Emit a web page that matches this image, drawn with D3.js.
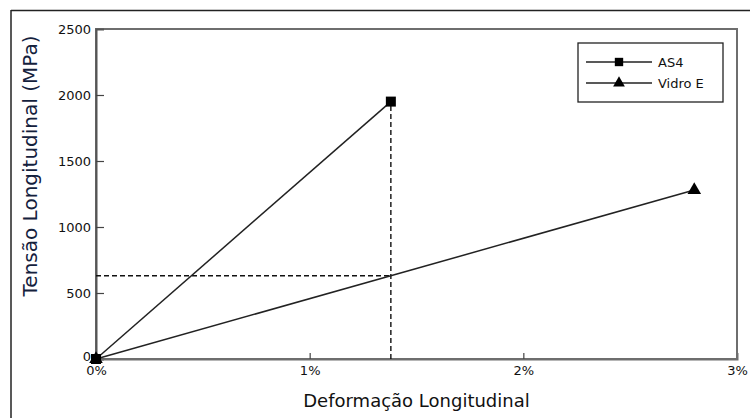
<!DOCTYPE html>
<html>
<head>
<meta charset="utf-8">
<script src="https://cdn.jsdelivr.net/npm/d3@7"></script>
<style>
  html, body { margin: 0; padding: 0; background: #fff; }
  svg { display: block; }
</style>
</head>
<body>
<svg id="chart" width="750" height="418"></svg>
<script>
// Stress–strain curves (strain in %, stress in MPa)
const seriesNames = ["AS4", "Vidro E"];
const strainAS4 = [0, 1.38];
const stressAS4 = [0, 1950];
const strainVidro = [0, 2.8];
const stressVidro = [0, 1280];
const xTicks = [0, 1, 2, 3];
const xTickLabels = ["0%", "1%", "2%", "3%"];
const yTicks = [0, 500, 1000, 1500, 2000, 2500];
const yTickLabels = ["0", "500", "1000", "1500", "2000", "2500"];

const svg = d3.select("#chart");
const W = 750, H = 418;
const m = { left: 96, right: 13, top: 29, bottom: 59 };

const x = d3.scaleLinear().domain([0, 3]).range([m.left, W - m.right]);
const y = d3.scaleLinear().domain([0, 2500]).range([H - m.bottom, m.top]);

// outer frame (top and left edges of the figure)
svg.append("line").attr("x1", 11).attr("x2", W).attr("y1", 10.5).attr("y2", 10.5)
  .attr("stroke", "#222").attr("stroke-width", 1.5);
svg.append("line").attr("x1", 11).attr("x2", 11).attr("y1", 10).attr("y2", H)
  .attr("stroke", "#222").attr("stroke-width", 1.5);

const font = "Tahoma, 'DejaVu Sans', sans-serif";

// plot box
svg.append("rect")
  .attr("x", x(0)).attr("y", y(2500))
  .attr("width", x(3) - x(0)).attr("height", y(0) - y(2500))
  .attr("fill", "none").attr("stroke", "#6e6e6e").attr("stroke-width", 2);

// y ticks (inward)
const yAxis = d3.axisLeft(y).tickValues(yTicks).tickSize(-8)
  .tickFormat((d, i) => yTickLabels[i]).tickPadding(14);
const gy = svg.append("g").attr("transform", `translate(${x(0)},0)`).call(yAxis);
gy.select(".domain").attr("stroke", "#555").attr("stroke-width", 2);
gy.selectAll(".tick line").attr("stroke", "#444").attr("stroke-width", 1.2)
  .filter(d => d === 0 || d === 2500).remove();
gy.selectAll(".tick text").attr("font-family", font).attr("font-size", 13)
  .attr("fill", "#111").attr("x", -5)
  .filter(d => d === 0).attr("dy", "0.1em");

// x ticks (inward)
const xAxis = d3.axisBottom(x).tickValues(xTicks).tickSize(-6)
  .tickFormat((d, i) => xTickLabels[i]).tickPadding(8);
const gx = svg.append("g").attr("transform", `translate(0,${y(0)})`).call(xAxis);
gx.select(".domain").attr("stroke", "#6e6e6e").attr("stroke-width", 2);
gx.selectAll(".tick line").attr("stroke", "#444").attr("stroke-width", 1.2)
  .filter(d => d === 0 || d === 3).remove();
gx.selectAll(".tick text").attr("font-family", font).attr("font-size", 13)
  .attr("fill", "#111").attr("y", 7);

// stress of the glass fibre at the carbon fibre failure strain
const xFail = strainAS4[1];
const yAtFail = stressVidro[1] * xFail / strainVidro[1];

// dashed reference lines
svg.append("line")
  .attr("x1", x(xFail)).attr("x2", x(xFail))
  .attr("y1", y(0)).attr("y2", y(stressAS4[1]))
  .attr("stroke", "#111").attr("stroke-width", 1.4).attr("stroke-dasharray", "5,3");
svg.append("line")
  .attr("x1", x(0)).attr("x2", x(xFail))
  .attr("y1", y(yAtFail)).attr("y2", y(yAtFail))
  .attr("stroke", "#111").attr("stroke-width", 1.4).attr("stroke-dasharray", "5,3");

const line = d3.line().x(d => x(d[0])).y(d => y(d[1]));
const as4 = strainAS4.map((s, i) => [s, stressAS4[i]]);
const vidro = strainVidro.map((s, i) => [s, stressVidro[i]]);

svg.append("path").datum(as4).attr("d", line)
  .attr("fill", "none").attr("stroke", "#222").attr("stroke-width", 1.5);
svg.append("path").datum(vidro).attr("d", line)
  .attr("fill", "none").attr("stroke", "#222").attr("stroke-width", 1.5);

const sq = d3.symbol().type(d3.symbolSquare).size(100);
const tri = d3.symbol().type(d3.symbolTriangle).size(80);

svg.selectAll(".tri").data(vidro).join("path")
  .attr("transform", d => `translate(${x(d[0])},${y(d[1])})`)
  .attr("d", tri).attr("fill", "#000");
svg.selectAll(".sq").data(as4).join("path")
  .attr("transform", d => `translate(${x(d[0])},${y(d[1])})`)
  .attr("d", sq).attr("fill", "#000");

// legend
const lg = svg.append("g").attr("transform", "translate(578,43)");
lg.append("rect").attr("width", 145).attr("height", 59)
  .attr("fill", "#fff").attr("stroke", "#222").attr("stroke-width", 1.3);
const legendSymbols = [
  d3.symbol().type(d3.symbolSquare).size(70),
  d3.symbol().type(d3.symbolTriangle).size(60)
];
seriesNames.forEach((name, i) => {
  const cy = 19 + i * 21;
  lg.append("line").attr("x1", 8).attr("x2", 74).attr("y1", cy).attr("y2", cy)
    .attr("stroke", "#222").attr("stroke-width", 1.3);
  lg.append("path").attr("transform", `translate(41,${cy})`)
    .attr("d", legendSymbols[i]()).attr("fill", "#000");
  lg.append("text").attr("x", 80).attr("y", cy + 4.5).text(name)
    .attr("font-family", font).attr("font-size", 13).attr("fill", "#111");
});

// axis titles
svg.append("text")
  .attr("x", (x(0) + x(3)) / 2).attr("y", 407)
  .attr("text-anchor", "middle").attr("font-family", font).attr("font-size", 18)
  .attr("fill", "#111").text("Deformação Longitudinal");
svg.append("text")
  .attr("transform", "translate(37,166) rotate(-90)")
  .attr("text-anchor", "middle").attr("font-family", font).attr("font-size", 20)
  .attr("fill", "#14213d").text("Tensão Longitudinal (MPa)");
</script>
</body>
</html>
